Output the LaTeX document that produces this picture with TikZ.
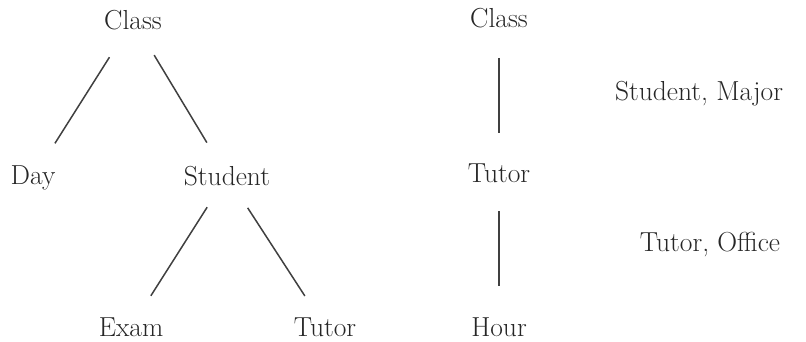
\documentclass[tikz,border=0pt]{standalone}
\begin{document}
\begin{tikzpicture}[x=1pt,y=-1pt,
  lbl/.style={font=\fontsize{27.5}{32}\selectfont, inner sep=0pt, text=black!85},
  edge/.style={line width=1.5pt, draw=black!75}]
\useasboundingbox (0,0) rectangle (806,342);
\node[lbl] (cl) at (133,20) {Class};
\node[lbl] (day) at (33,178) {Day};
\node[lbl] (st) at (227,176) {Student};
\node[lbl] (ex) at (131,327) {Exam};
\node[lbl] (tu) at (325,327) {Tutor};
\node[lbl] (cl2) at (499,18) {Class};
\node[lbl] (tu2) at (499,173) {Tutor};
\node[lbl] (ho) at (499,327) {Hour};
\node[lbl] (sm) at (699,94) {Student, Major};
\node[lbl] (to) at (710,245) {Tutor, Office};
\draw[edge, shorten <=44pt, shorten >=41pt] (cl.center) -- (day.center);
\draw[edge, shorten <=41pt, shorten >=39pt] (cl.center) -- (st.center);
\draw[edge, shorten <=37pt, shorten >=37pt] (st.center) -- (ex.center);
\draw[edge, shorten <=38pt, shorten >=37pt] (st.center) -- (tu.center);
\draw[edge, shorten <=40pt, shorten >=40pt] (cl2.center) -- (tu2.center);
\draw[edge, shorten <=38pt, shorten >=41pt] (tu2.center) -- (ho.center);
\end{tikzpicture}
\end{document}
